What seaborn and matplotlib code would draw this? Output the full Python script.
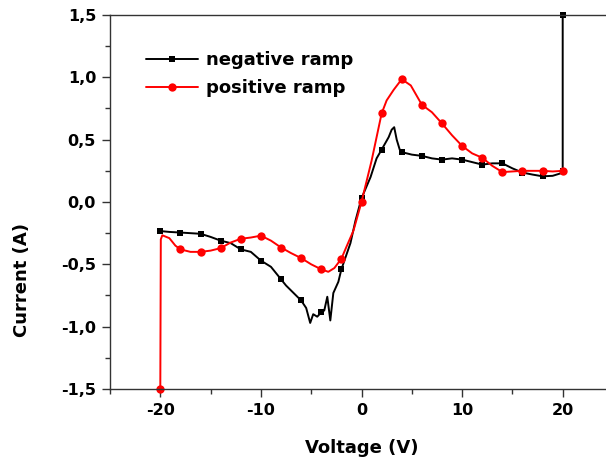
import numpy as np
import pandas as pd
import matplotlib
matplotlib.use("Agg")
import matplotlib.pyplot as plt
from matplotlib.ticker import FixedLocator, MultipleLocator
import seaborn as sns

# ---- data ----
neg_v = [-20, -19.1, -18, -17, -16, -15, -14, -13, -12, -11, -10, -9, -8, -7.5, -7, -6.5,
         -6, -5.5, -5.1, -4.8, -4.4, -4, -3.7, -3.4, -3.1, -2.8, -2.3, -2, -1.1, -0.6, 0,
         0.9, 1.5, 2, 2.7, 3.0, 3.25, 3.5, 3.8, 4, 5, 6, 7, 8, 9, 10, 11, 12, 13, 14, 15,
         16, 17, 18, 19, 19.8, 20, 20]
neg_i = [-0.233, -0.24, -0.245, -0.25, -0.255, -0.28, -0.31, -0.33, -0.38, -0.40, -0.47,
         -0.52, -0.62, -0.67, -0.71, -0.75, -0.79, -0.85, -0.97, -0.90, -0.92, -0.885,
         -0.87, -0.76, -0.95, -0.73, -0.64, -0.54, -0.33, -0.15, 0.03, 0.20, 0.35, 0.42,
         0.52, 0.58, 0.60, 0.50, 0.42, 0.40, 0.38, 0.37, 0.35, 0.34, 0.35, 0.34, 0.32,
         0.30, 0.31, 0.31, 0.27, 0.236, 0.22, 0.206, 0.21, 0.23, 0.25, 1.5]

pos_v = [-20, -19.95, -19.8, -19.1, -18.5, -18, -17, -16, -15, -14, -13, -12, -11, -10,
         -9, -8, -7, -6, -5, -4, -3.3, -2.7, -2, -1.5, -0.8, 0, 1, 2, 2.5, 3.2, 4, 4.9,
         6, 7, 8, 9, 10, 11, 12, 13, 14, 15, 16, 17, 18, 19, 20]
pos_i = [-1.5, -0.30, -0.267, -0.29, -0.35, -0.38, -0.40, -0.40, -0.39, -0.37, -0.325,
         -0.295, -0.285, -0.27, -0.31, -0.365, -0.41, -0.45, -0.50, -0.54, -0.56, -0.53,
         -0.455, -0.36, -0.23, 0.0, 0.33, 0.71, 0.815, 0.90, 0.985, 0.935, 0.78, 0.72,
         0.63, 0.535, 0.45, 0.39, 0.355, 0.29, 0.24, 0.245, 0.25, 0.25, 0.25, 0.245, 0.25]

x_ticks = [-20, -10, 0, 10, 20]
x_labels = ["-20", "-10", "0", "10", "20"]
y_ticks = [-1.5, -1.0, -0.5, 0.0, 0.5, 1.0, 1.5]
y_labels = ["-1,5", "-1,0", "-0,5", "0,0", "0,5", "1,0", "1,5"]

sns.set_style("ticks")
plt.rcParams["font.family"] = ["DejaVu Sans"]
plt.rcParams["font.weight"] = "bold"
plt.rcParams["text.color"] = "black"
plt.rcParams["axes.labelcolor"] = "black"

fig = plt.figure(figsize=(6.06, 4.69), dpi=100)
ax = fig.add_axes([110 / 606, 80 / 469, 503 / 606, 374 / 469])

neg_df = pd.DataFrame({"v": neg_v, "i": neg_i})
pos_df = pd.DataFrame({"v": pos_v, "i": pos_i})

def mark_idx(vals):
    return [k for k, v in enumerate(vals) if float(v).is_integer() and int(v) % 2 == 0]

sns.lineplot(data=neg_df, x="v", y="i", sort=False, estimator=None, ax=ax, color="black",
             lw=1.4, marker="s", markersize=5, markeredgewidth=0,
             markevery=mark_idx(neg_v), label="negative ramp", clip_on=False)
sns.lineplot(data=pos_df, x="v", y="i", sort=False, estimator=None, ax=ax, color="#ff0000",
             lw=1.4, marker="o", markersize=6, markeredgewidth=0,
             markevery=mark_idx(pos_v), label="positive ramp", clip_on=False)

ax.set_xlim(-25, 25)
ax.set_ylim(-1.5, 1.5)
ax.xaxis.set_major_locator(FixedLocator(x_ticks))
ax.set_xticklabels(x_labels)
ax.xaxis.set_minor_locator(MultipleLocator(5))
ax.yaxis.set_major_locator(FixedLocator(y_ticks))
ax.set_yticklabels(y_labels)
ax.yaxis.set_minor_locator(MultipleLocator(0.25))

for s in ax.spines.values():
    s.set_linewidth(1.0)
    s.set_color("#333333")
ax.tick_params(which="major", direction="out", length=6, width=1.0, colors="#333333",
               labelsize=11.5, labelcolor="black", pad=4)
ax.tick_params(which="minor", direction="out", length=3.5, width=1.0, colors="#333333")
for lab in ax.get_xticklabels() + ax.get_yticklabels():
    lab.set_fontweight("bold")
    lab.set_color("black")

ax.set_xlabel("Voltage (V)", fontsize=13, fontweight="bold", color="black")
ax.set_ylabel("Current (A)", fontsize=13, fontweight="bold", color="black")
ax.xaxis.set_label_coords(0.5, (389 - 439) / 374)
ax.yaxis.set_label_coords((31 - 110) / 503, (389 - 280) / 374)

leg = ax.legend(loc="upper left", bbox_to_anchor=(146 / 606, 1 - 51 / 469),
                bbox_transform=fig.transFigure, frameon=False, fontsize=13,
                handlelength=2.9, handletextpad=0.44, borderpad=0, borderaxespad=0,
                labelspacing=0.58)
for t in leg.get_texts():
    t.set_fontweight("bold")
    t.set_color("black")

fig.savefig("out.png", dpi=100)
